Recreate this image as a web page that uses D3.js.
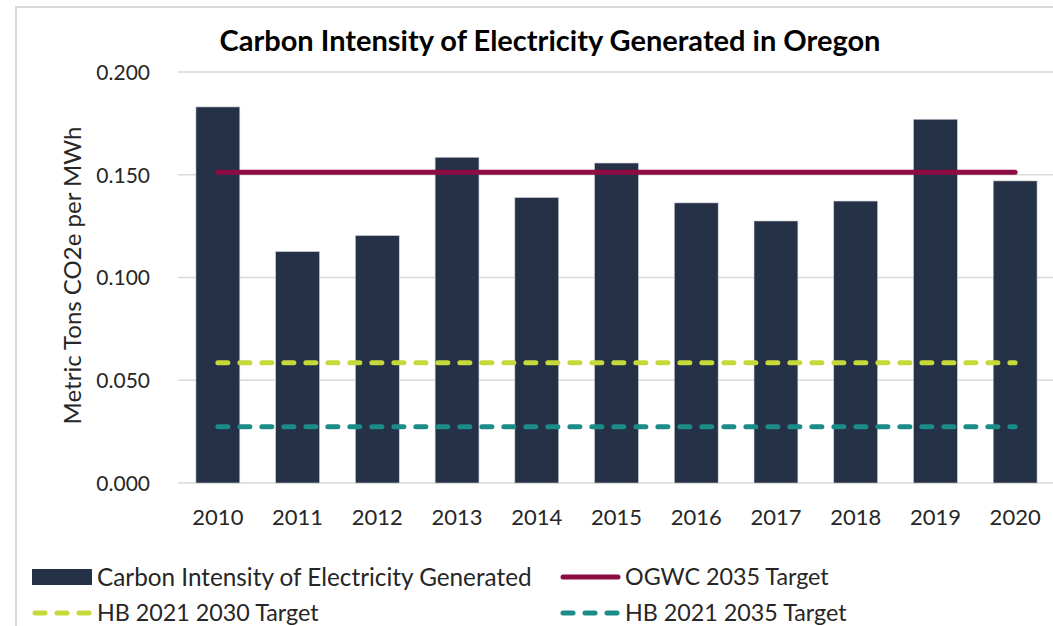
<!DOCTYPE html>
<html>
<head>
<meta charset="utf-8">
<script src="https://cdn.jsdelivr.net/npm/d3@7"></script>
<style>
  body { margin: 0; background: #fff; }
  text { font-family: Lato, "Open Sans", sans-serif; fill: #262626; }
</style>
</head>
<body>
<div id="chart"></div>
<script>
const years = ["2010","2011","2012","2013","2014","2015","2016","2017","2018","2019","2020"];
const intensity = [0.183, 0.1126, 0.1204, 0.1585, 0.1389, 0.1557, 0.1363, 0.1275, 0.1372, 0.177, 0.147];
const ogwcTarget = 0.1512;
const hb2030Target = 0.0585;
const hb2035Target = 0.0274;
const yTicks = [0, 0.05, 0.1, 0.15, 0.2];

const colors = {bar: "#243147", ogwc: "#8c0c43", hb2030: "#c6d93a", hb2035: "#1b8c88"};

const W = 1053, H = 626;
const margin = {top: 72, right: -2, bottom: 143, left: 178};
const width = W - margin.left - margin.right;
const height = H - margin.top - margin.bottom;

const svg = d3.select("#chart").append("svg")
    .attr("width", W).attr("height", H);

// frame
svg.append("path").attr("d", `M16,${H} L16,7 L${W},7`)
    .attr("fill", "none").attr("stroke", "#d9d9d9").attr("stroke-width", 2);

svg.append("text").attr("x", 550).attr("y", 51)
    .attr("text-anchor", "middle").attr("font-weight", "bold")
    .attr("font-size", 29).style("fill", "#000")
    .text("Carbon Intensity of Electricity Generated in Oregon");

const g = svg.append("g").attr("transform", `translate(${margin.left},${margin.top})`);

const x = d3.scaleBand().domain(years).range([0, width]).paddingInner(0.45).paddingOuter(0.225);
const y = d3.scaleLinear().domain([0, 0.2]).range([height, 0]);

// gridlines
g.append("g").selectAll("line").data(yTicks).join("line")
    .attr("x1", 0).attr("x2", width)
    .attr("y1", d => y(d)).attr("y2", d => y(d))
    .attr("stroke", "#d9d9d9").attr("stroke-width", 1.5);

const yAxis = g.append("g").call(d3.axisLeft(y).tickValues(yTicks).tickFormat(d3.format(".3f")).tickSize(0).tickPadding(28));
yAxis.select(".domain").remove();
yAxis.selectAll("text").attr("font-size", 21).attr("font-family", "Lato").attr("dy", "0.35em").style("fill", "#262626");

const xAxis = g.append("g").attr("transform", `translate(0,${height})`)
    .call(d3.axisBottom(x).tickSize(0).tickPadding(26));
xAxis.select(".domain").remove();
xAxis.selectAll("text").attr("font-size", 22).attr("font-family", "Lato").style("fill", "#262626");

svg.append("text")
    .attr("transform", `translate(81,${margin.top + height / 2 - 2}) rotate(-90)`)
    .attr("text-anchor", "middle").attr("font-size", 24).attr("font-family", "Lato")
    .text("Metric Tons CO2e per MWh");

// bars
g.selectAll("rect.bar").data(years).join("rect").attr("class", "bar")
    .attr("x", d => x(d)).attr("width", x.bandwidth())
    .attr("y", (d, i) => y(intensity[i])).attr("height", (d, i) => height - y(intensity[i]))
    .attr("fill", colors.bar).attr("stroke", "#c9ccd4").attr("stroke-width", 0.6);

// target lines
const x0 = x(years[0]) + x.bandwidth() / 2, x1 = x(years[years.length - 1]) + x.bandwidth() / 2;
const targets = [
  {v: ogwcTarget, c: colors.ogwc, dash: null},
  {v: hb2030Target, c: colors.hb2030, dash: "10 12"},
  {v: hb2035Target, c: colors.hb2035, dash: "10 12"}
];
g.selectAll("line.target").data(targets).join("line").attr("class", "target")
    .attr("x1", x0).attr("x2", x1)
    .attr("y1", d => y(d.v)).attr("y2", d => y(d.v))
    .attr("stroke", d => d.c).attr("stroke-width", 5)
    .attr("stroke-linecap", "round")
    .attr("stroke-dasharray", d => d.dash);

// legend
const legend = [
  {label: "Carbon Intensity of Electricity Generated", type: "rect", c: colors.bar, lx: 32, ly: 577},
  {label: "OGWC 2035 Target", type: "line", c: colors.ogwc, lx: 560, ly: 577},
  {label: "HB 2021 2030 Target", type: "dash", c: colors.hb2030, lx: 32, ly: 613},
  {label: "HB 2021 2035 Target", type: "dash", c: colors.hb2035, lx: 560, ly: 613}
];
const lg = svg.append("g");
legend.forEach(d => {
  if (d.type === "rect") {
    lg.append("rect").attr("x", d.lx).attr("y", d.ly - 8).attr("width", 60).attr("height", 16).attr("fill", d.c);
  } else {
    lg.append("line").attr("x1", d.lx + 3).attr("x2", d.lx + 58).attr("y1", d.ly).attr("y2", d.ly)
      .attr("stroke", d.c).attr("stroke-width", 5).attr("stroke-linecap", "round")
      .attr("stroke-dasharray", d.type === "dash" ? "10 12" : null);
  }
  lg.append("text").attr("x", d.lx + 65).attr("y", d.ly).attr("dy", "0.35em")
    .attr("font-size", d.type === "rect" ? 24.3 : 23.3).text(d.label);
});
</script>
</body>
</html>
